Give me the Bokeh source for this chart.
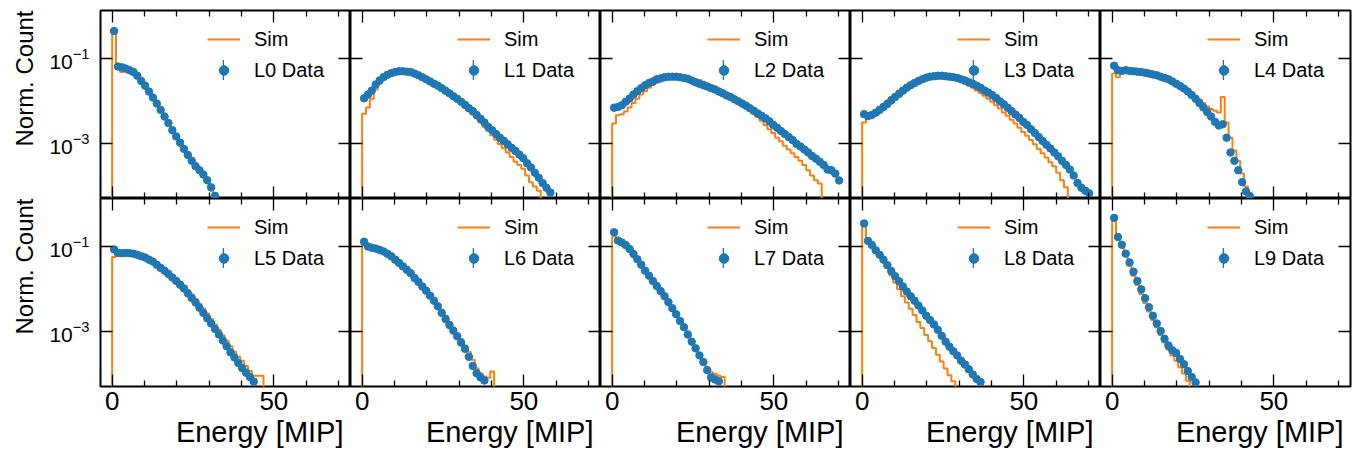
import numpy as np
from bokeh.plotting import figure
from bokeh.layouts import column, row
from bokeh.models import (Range1d, FixedTicker, LogAxis, LinearAxis, Legend, LegendItem,
                          LogTickFormatter, CustomJSTickFormatter, Title)
from bokeh.embed import file_html
from bokeh.resources import INLINE

# ---------------- data (normalised counts per 1.2 MIP bin) -------------
BIN_WIDTH = 1.2
layer_names = ["L0", "L1", "L2", "L3", "L4", "L5", "L6", "L7", "L8", "L9"]

data_L0 = [0.45, 0.066, 0.063, 0.059, 0.054, 0.049, 0.040, 0.030, 0.0234, 0.017, 0.0123, 0.0089,
           0.0063, 0.0044, 0.0031, 0.0021, 0.0015, 0.00107, 0.00076, 0.00055, 0.0004, 0.0003,
           0.00024, 0.00019, 0.00014, 0.000095, 0.00006]
sim_L0 = [0.45, 0.063, 0.049, 0.058, 0.055, 0.05, 0.043, 0.033, 0.025, 0.0186, 0.0135, 0.0098,
          0.0069, 0.0049, 0.0035, 0.0024, 0.0017, 0.0012, 0.00085, 0.0006, 0.00043, 0.00032,
          0.00024, 0.00018, 0.000126, 0.00008]

data_L1 = [0.0118, 0.0145, 0.018, 0.025, 0.031, 0.037, 0.042, 0.046, 0.049, 0.051, 0.051, 0.050,
           0.049, 0.045, 0.041, 0.037, 0.033, 0.0295, 0.026, 0.0234, 0.0204, 0.0178, 0.0155,
           0.0132, 0.0115, 0.0098, 0.0083, 0.0069, 0.0059, 0.0048, 0.0039, 0.0032, 0.0025,
           0.0021, 0.0017, 0.0014, 0.00118, 0.00098, 0.00081, 0.00068, 0.00056, 0.00046,
           0.00035, 0.00028, 0.00021, 0.00016, 0.00012, 0.000093, 0.000072]
sim_L1 = [0.0051, 0.0072, 0.0115, 0.019, 0.026, 0.033, 0.039, 0.044, 0.047, 0.049, 0.050, 0.049,
          0.048, 0.044, 0.040, 0.035, 0.032, 0.028, 0.025, 0.022, 0.019, 0.0166, 0.0141, 0.012,
          0.0102, 0.0087, 0.0072, 0.006, 0.0049, 0.004, 0.0032, 0.0025, 0.002, 0.0016, 0.00126,
          0.001, 0.00079, 0.00063, 0.00049, 0.00038, 0.00032, 0.00026, 0.00018, 0.000126,
          0.0001, 0.000079]

data_L2 = [0.0071, 0.0074, 0.0081, 0.0098, 0.0117, 0.0145, 0.0174, 0.0204, 0.024, 0.027, 0.0295,
           0.033, 0.0347, 0.037, 0.038, 0.038, 0.038, 0.037, 0.0355, 0.034, 0.031, 0.028, 0.026,
           0.024, 0.0224, 0.0204, 0.019, 0.017, 0.0155, 0.0138, 0.0126, 0.0112, 0.01, 0.0089,
           0.0079, 0.0069, 0.006, 0.0052, 0.0046, 0.004, 0.0034, 0.0028, 0.0024, 0.002, 0.0017,
           0.00145, 0.00123, 0.001, 0.00087, 0.00074, 0.00063, 0.00052, 0.00045, 0.00038,
           0.00032, 0.00025, 0.00024, 0.0002, 0.000138]
sim_L2 = [0.003, 0.0047, 0.005, 0.0058, 0.0072, 0.0091, 0.0115, 0.0145, 0.0174, 0.021, 0.0245,
          0.0275, 0.031, 0.034, 0.0355, 0.037, 0.038, 0.038, 0.038, 0.037, 0.0355, 0.033, 0.0316,
          0.029, 0.026, 0.024, 0.022, 0.0195, 0.0174, 0.0151, 0.0135, 0.0117, 0.0102, 0.0087,
          0.0074, 0.0062, 0.0051, 0.0043, 0.0035, 0.0028, 0.0022, 0.0018, 0.0014, 0.00115,
          0.00091, 0.00074, 0.0006, 0.00049, 0.0004, 0.00032, 0.00024, 0.00018, 0.00014,
          0.000117]

data_L3 = [0.005, 0.0045, 0.0048, 0.0054, 0.0063, 0.0074, 0.0087, 0.0105, 0.0126, 0.015, 0.0178,
           0.021, 0.024, 0.027, 0.030, 0.033, 0.036, 0.038, 0.039, 0.040, 0.040, 0.039, 0.038,
           0.037, 0.0355, 0.033, 0.031, 0.028, 0.026, 0.0234, 0.021, 0.018, 0.0162, 0.0141,
           0.012, 0.01, 0.0085, 0.0071, 0.0059, 0.0049, 0.0041, 0.0033, 0.0028, 0.0022, 0.0018,
           0.00145, 0.00117, 0.00095, 0.00078, 0.00063, 0.00051, 0.0004, 0.00032, 0.00025,
           0.00018, 0.00012, 0.000093, 0.000079, 0.000069]
sim_L3 = [0.0032, 0.0039, 0.0051, 0.006, 0.0072, 0.0087, 0.0105, 0.0126, 0.015, 0.0178, 0.021,
          0.024, 0.027, 0.030, 0.033, 0.0355, 0.037, 0.039, 0.040, 0.040, 0.039, 0.038, 0.036,
          0.034, 0.0316, 0.029, 0.026, 0.0234, 0.021, 0.018, 0.0158, 0.0135, 0.0115, 0.0098,
          0.0081, 0.0068, 0.0055, 0.0046, 0.0037, 0.003, 0.0024, 0.0019, 0.00155, 0.00123,
          0.00098, 0.00076, 0.0006, 0.00048, 0.00037, 0.0003, 0.00021, 0.00014, 0.000095]

data_L4 = [0.069, 0.054, 0.052, 0.054, 0.052, 0.051, 0.050, 0.049, 0.047, 0.045, 0.043, 0.041,
           0.038, 0.0355, 0.033, 0.0295, 0.026, 0.023, 0.020, 0.017, 0.0141, 0.0115, 0.0091,
           0.0072, 0.0056, 0.0044, 0.0033, 0.0027, 0.0029, 0.0014, 0.00063, 0.0004, 0.00024,
           0.000126, 0.000076, 0.000058]
sim_L4 = [0.045, 0.037, 0.049, 0.049, 0.048, 0.047, 0.045, 0.044, 0.042, 0.041, 0.039, 0.037,
          0.0355, 0.034, 0.0316, 0.029, 0.026, 0.0234, 0.021, 0.018, 0.0155, 0.0132, 0.011,
          0.0091, 0.0076, 0.0066, 0.006, 0.0055, 0.0126, 0.0032, 0.0014, 0.0007, 0.0004, 0.0002,
          0.0001, 0.00007]

data_L5 = [0.087, 0.072, 0.071, 0.072, 0.071, 0.069, 0.065, 0.060, 0.056, 0.050, 0.045, 0.038,
           0.032, 0.0275, 0.023, 0.019, 0.0158, 0.0129, 0.0105, 0.0081, 0.0063, 0.0049, 0.0037,
           0.0028, 0.0021, 0.00158, 0.00117, 0.00087, 0.00063, 0.00046, 0.00033, 0.00025,
           0.000186, 0.000141, 0.00011, 0.000087, 0.000068]
sim_L5 = [0.058, 0.069, 0.076, 0.076, 0.074, 0.071, 0.068, 0.063, 0.059, 0.054, 0.048, 0.042,
          0.036, 0.031, 0.026, 0.022, 0.018, 0.0148, 0.012, 0.0095, 0.0076, 0.0059, 0.0046,
          0.0035, 0.0027, 0.002, 0.0015, 0.00112, 0.00083, 0.00062, 0.00046, 0.00034, 0.00026,
          0.00021, 0.000158, 0.00012, 0.000093, 0.000093, 0.000093]

data_L6 = [0.132, 0.102, 0.095, 0.091, 0.085, 0.078, 0.069, 0.060, 0.050, 0.042, 0.0347, 0.029,
           0.024, 0.0186, 0.015, 0.0117, 0.0093, 0.0071, 0.0054, 0.004, 0.0028, 0.002, 0.00145,
           0.00107, 0.00079, 0.00056, 0.0004, 0.00026, 0.000158, 0.000107, 0.000085, 0.000072]
sim_L6 = [0.11, 0.091, 0.091, 0.089, 0.085, 0.079, 0.072, 0.063, 0.054, 0.045, 0.037, 0.031,
          0.026, 0.0204, 0.0166, 0.0132, 0.0105, 0.0081, 0.0062, 0.0046, 0.0033, 0.0024, 0.0017,
          0.00126, 0.00093, 0.00068, 0.00048, 0.00034, 0.00022, 0.00014, 0.000107, 0.000089,
          0.000083, 0.000117]

data_L7 = [0.22, 0.141, 0.126, 0.11, 0.089, 0.068, 0.051, 0.038, 0.0275, 0.021, 0.0158, 0.012,
           0.0091, 0.0069, 0.005, 0.0036, 0.0026, 0.0018, 0.00129, 0.00087, 0.00059, 0.00041,
           0.00028, 0.000195, 0.000126, 0.000085, 0.000076, 0.000069]
sim_L7 = [0.174, 0.145, 0.126, 0.112, 0.093, 0.071, 0.054, 0.040, 0.0295, 0.0224, 0.017, 0.0129,
          0.0098, 0.0074, 0.0054, 0.0039, 0.0028, 0.002, 0.0014, 0.00098, 0.00068, 0.00047,
          0.00032, 0.00022, 0.00015, 0.000112, 0.000102, 0.000093, 0.000087]

data_L8 = [0.355, 0.138, 0.11, 0.083, 0.065, 0.050, 0.037, 0.027, 0.0204, 0.0155, 0.0117, 0.0089,
           0.0069, 0.0054, 0.0042, 0.0032, 0.0024, 0.0019, 0.0015, 0.00112, 0.00081, 0.00059,
           0.00045, 0.00035, 0.00028, 0.00021, 0.00017, 0.000132, 0.0001, 0.000078, 0.000066]
sim_L8 = [0.36, 0.158, 0.132, 0.093, 0.066, 0.047, 0.0316, 0.0214, 0.0145, 0.01, 0.0069, 0.0049,
          0.0035, 0.0025, 0.0017, 0.00123, 0.00085, 0.0006, 0.00042, 0.00029, 0.0002, 0.000138,
          0.000095, 0.000069]

data_L9 = [0.48, 0.17, 0.112, 0.069, 0.043, 0.026, 0.0158, 0.01, 0.0062, 0.0038, 0.0024, 0.00158,
           0.00105, 0.00069, 0.00048, 0.00037, 0.00032, 0.00023, 0.000174, 0.00012, 0.000087,
           0.000065]
sim_L9 = [0.51, 0.174, 0.12, 0.063, 0.036, 0.021, 0.0126, 0.0078, 0.0048, 0.003, 0.0019, 0.00129,
          0.00085, 0.00056, 0.00038, 0.00028, 0.00021, 0.000148, 0.000105, 0.000071]

DATA = [data_L0, data_L1, data_L2, data_L3, data_L4, data_L5, data_L6, data_L7, data_L8, data_L9]
SIM = [sim_L0, sim_L1, sim_L2, sim_L3, sim_L4, sim_L5, sim_L6, sim_L7, sim_L8, sim_L9]

x_major_ticks = [0, 50]
x_minor_ticks = [10, 20, 30, 40, 60, 70]
y_major_ticks = [1e-3, 1e-1]
x_label = "Energy [MIP]"
y_label = "Norm. Count"

# ---------------- style ----------------
FONT = "Liberation Sans"
BLUE = "#1f77b4"
ORANGE = "#ff7f0e"
X_RANGE = (-3.6, 73.7)
Y_RANGE = (5.2e-5, 1.37)
FLOOR = 1e-9
FW, FH = 250, 188


def style_ticks(ax):
    ax.major_tick_in = 12
    ax.major_tick_out = 0
    ax.minor_tick_in = 6
    ax.minor_tick_out = 0
    ax.major_tick_line_color = "black"
    ax.minor_tick_line_color = "black"
    ax.major_tick_line_width = 1.3
    ax.minor_tick_line_width = 1.3
    ax.axis_line_color = None


def blank_labels(ax):
    ax.formatter = CustomJSTickFormatter(code="return ''")
    ax.major_label_standoff = 0
    ax.major_label_text_font_size = "0px"


panels = []
for i, name in enumerate(layer_names):
    r, c = divmod(i, 5)
    p = figure(frame_width=FW, frame_height=FH,
               x_range=Range1d(*X_RANGE), y_range=Range1d(*Y_RANGE),
               y_axis_type="log", output_backend="svg", toolbar_location=None,
               min_border_left=100 if c == 0 else 0,
               min_border_right=2 if c == 4 else 0,
               min_border_top=10 if r == 0 else 0,
               min_border_bottom=0,
               background_fill_color="white", border_fill_color="white")
    p.outline_line_color = "black"
    p.outline_line_width = 2
    p.outline_line_alpha = 1
    p.grid.visible = False

    # left axis
    yl = p.yaxis[0]
    yl.ticker = FixedTicker(ticks=y_major_ticks, minor_ticks=[])
    style_ticks(yl)
    if c == 0:
        yl.formatter = LogTickFormatter()
        yl.major_label_text_font = FONT
        yl.major_label_text_font_size = "21px"
        yl.major_label_text_color = "black"
        yl.major_label_standoff = 11
        p.add_layout(Title(text=y_label, align="right", vertical_align="top", offset=0,
                           standoff=13, text_font=FONT, text_font_size="24px",
                           text_font_style="normal", text_color="black"), "left")
    else:
        yl.fixed_location = X_RANGE[0]
        blank_labels(yl)

    # bottom axis
    xb = p.xaxis[0]
    xb.ticker = FixedTicker(ticks=x_major_ticks, minor_ticks=x_minor_ticks)
    style_ticks(xb)
    if r == 1:
        xb.major_label_text_font = FONT
        xb.major_label_text_font_size = "26px"
        xb.major_label_text_color = "black"
        xb.major_label_standoff = 5
        p.add_layout(Title(text=x_label, align="right", offset=7, standoff=2,
                           text_font=FONT, text_font_size="29px", text_font_style="normal",
                           text_color="black"), "below")
    else:
        xb.fixed_location = Y_RANGE[0]
        blank_labels(xb)

    # mirrored axes (ticks only)
    yr = LogAxis(ticker=FixedTicker(ticks=y_major_ticks, minor_ticks=[]), fixed_location=X_RANGE[1])
    style_ticks(yr)
    blank_labels(yr)
    p.add_layout(yr, "right")
    xt = LinearAxis(ticker=FixedTicker(ticks=x_major_ticks, minor_ticks=x_minor_ticks),
                    fixed_location=Y_RANGE[1])
    style_ticks(xt)
    blank_labels(xt)
    p.add_layout(xt, "above")

    # simulation histogram (step outline)
    sim = np.array(SIM[i], dtype=float)
    edges = np.arange(len(sim) + 1) * BIN_WIDTH
    xs = np.concatenate([[edges[0]], edges])
    ys = np.concatenate([[FLOOR], sim, [FLOOR]])
    sim_r = p.step(xs, ys, mode="after", line_color=ORANGE, line_width=2)

    # data points (error bars are smaller than the markers; the bar glyph feeds the legend)
    dat = np.array(DATA[i], dtype=float)
    centers = (np.arange(len(dat)) + 0.5) * BIN_WIDTH
    err_r = p.vbar(x=centers, width=0.05, top=dat, bottom=dat,
                   fill_color=BLUE, line_color=None)
    dot_r = p.scatter(centers, dat, marker="circle", size=7.5,
                      fill_color=BLUE, line_color=BLUE)

    # legends
    leg_x, leg_y = 107, FH - 17 - 55
    leg = Legend(items=[LegendItem(label="Sim", renderers=[sim_r]),
                        LegendItem(label=f"{name} Data", renderers=[dot_r])],
                 location=(leg_x, leg_y), padding=0, margin=0, spacing=7,
                 glyph_width=33, glyph_height=24, label_height=24, label_standoff=14,
                 label_text_font=FONT, label_text_font_size="20px", label_text_color="black",
                 border_line_color=None, background_fill_alpha=0)
    leg2 = Legend(items=[LegendItem(label=" ", renderers=[err_r])],
                  location=(leg_x + 15, leg_y), padding=0, margin=0,
                  glyph_width=2, glyph_height=25, label_height=25, label_standoff=0,
                  label_text_font=FONT, label_text_font_size="10px",
                  border_line_color=None, background_fill_alpha=0)
    p.add_layout(leg2, "center")
    p.add_layout(leg, "center")
    panels.append(p)

layout = column(row(*panels[:5]), row(*panels[5:]))
open("out.html", "w").write(file_html(layout, INLINE))
